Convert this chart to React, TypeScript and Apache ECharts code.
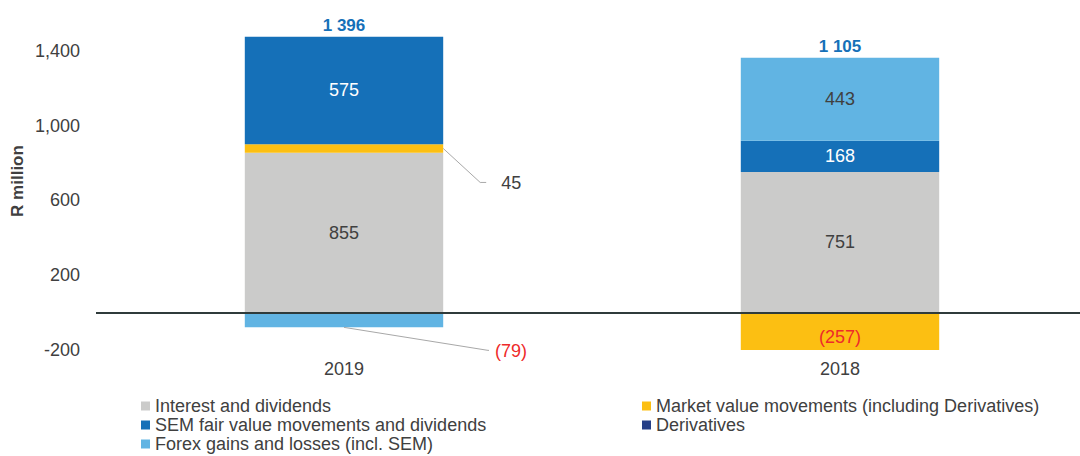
import React, { useEffect, useRef } from "react";
import * as echarts from "echarts";

const categories = ["2019", "2018"];
const interestAndDividends = [855, 751];
const marketValueMovements = [45, -257];
const semFairValue = [575, 168];
const forexGains = [-79, 443];
const derivatives: (number | null)[] = [null, null];
const totals = [1396, 1105];

const yMin = -200;
const yMax = 1500;
const yInterval = 400;

const FONT = "'Liberation Sans', Arial, sans-serif";
const TEXT = "#404040";
const RED = "#ee2a2a";

const NAMES = {
  interest: "Interest and dividends",
  market: "Market value movements (including Derivatives)",
  sem: "SEM fair value movements and dividends",
  forex: "Forex gains and losses (incl. SEM)",
  deriv: "Derivatives",
};

const fmt = (v: number) => (v < 0 ? `(${Math.abs(v)})` : `${v}`);
const fmtTotal = (v: number) => String(v).replace(/\B(?=(\d{3})+(?!\d))/g, " ");

// series drawn in stack order
const stackSeries = [
  { key: "interest", name: NAMES.interest, data: interestAndDividends, color: "#cbcbca", label: TEXT },
  { key: "market", name: NAMES.market, data: marketValueMovements, color: "#fcbf12", label: TEXT },
  { key: "sem", name: NAMES.sem, data: semFairValue, color: "#1570b8", label: "#ffffff" },
  { key: "forex", name: NAMES.forex, data: forexGains, color: "#61b4e3", label: TEXT },
  { key: "deriv", name: NAMES.deriv, data: derivatives, color: "#253f87", label: "#ffffff" },
];

// callouts: labels drawn outside with a leader line (kind 0 = right edge mid, 1 = bottom centre)
const callouts = [
  { key: "market", cat: 0, kind: 0 },
  { key: "forex", cat: 0, kind: 1 },
];

export default function App() {
  const ref = useRef<HTMLDivElement>(null);

  useEffect(() => {
    if (!ref.current) return;
    const chart = echarts.init(ref.current, undefined, { renderer: "svg" });

    const posBase = categories.map(() => 0);
    const negBase = categories.map(() => 0);
    const anchors: Record<string, number[]> = {};
    stackSeries.forEach((s) => {
      anchors[s.key] = categories.map((_, i) => {
        const v = s.data[i];
        if (v == null) return 0;
        if (v >= 0) {
          const mid = posBase[i] + v / 2;
          posBase[i] += v;
          return mid;
        } else {
          const end = negBase[i] + v;
          negBase[i] += v;
          return end;
        }
      });
    });
    const positiveTops = posBase.slice();

    const calloutData = callouts.map((c) => {
      const s = stackSeries.find((x) => x.key === c.key)!;
      return [c.cat, anchors[c.key][c.cat], s.data[c.cat] as number, c.kind];
    });

    const barSeries: any[] = stackSeries.map((s, si) => ({
      name: s.name,
      type: "bar",
      stack: "total",
      barWidth: "40%",
      itemStyle: { color: s.color },
      label: {
        show: true,
        position: "inside",
        fontFamily: FONT,
        fontSize: 18,
        color: s.label,
        formatter: (p: any) => fmt(p.value),
      },
      markLine:
        si === 0
          ? {
              silent: true,
              symbol: ["none", "none"],
              label: { show: false },
              lineStyle: { color: "#2f3b3b", width: 2, type: "solid" },
              data: [{ yAxis: 0 }],
            }
          : undefined,
      data: s.data.map((v, i) => {
        const isCallout = callouts.some((c) => c.key === s.key && c.cat === i);
        return {
          value: v,
          label: {
            show: v != null && !isCallout,
            color: v != null && v < 0 ? RED : s.label,
            offset: v != null && v < yMin ? [0, 6] : [0, 0],
          },
        };
      }),
    }));

    const legendBase = {
      orient: "vertical",
      top: 397,
      height: 80,
      padding: 0,
      itemWidth: 9,
      itemHeight: 9,
      itemGap: 1,
      icon: "rect",
      selectedMode: false,
      textStyle: { color: TEXT, fontSize: 18, fontFamily: FONT, lineHeight: 18 },
    };

    const option: any = {
      animation: false,
      grid: {
        left: 96,
        width: 992,
        top: 32,
        bottom: 106,
        containLabel: false,
        outerBoundsMode: "none",
      },
      xAxis: {
        type: "category",
        data: categories,
        axisLine: { show: false, onZero: false },
        axisTick: { show: false },
        axisLabel: { color: TEXT, fontSize: 18, fontFamily: FONT, margin: 10 },
      },
      yAxis: {
        type: "value",
        min: yMin,
        max: yMax,
        interval: yInterval,
        axisLine: { show: false },
        axisTick: { show: false },
        splitLine: { show: false },
        axisLabel: {
          color: TEXT,
          fontSize: 18,
          fontFamily: FONT,
          margin: 16,
          showMaxLabel: false,
          formatter: (v: number) => (v === yMax ? "" : v.toLocaleString("en-US")),
        },
      },
      legend: [
        { ...legendBase, data: [NAMES.interest, NAMES.sem, NAMES.forex], left: 141 },
        { ...legendBase, data: [NAMES.market, NAMES.deriv], left: 642 },
      ],
      graphic: [
        {
          type: "text",
          x: 17,
          y: 181,
          rotation: Math.PI / 2,
          style: {
            text: "R million",
            font: `bold 17px ${FONT}`,
            fill: TEXT,
            align: "center",
            verticalAlign: "middle",
          },
        },
      ],
      series: [
        ...barSeries,
        {
          name: "totals",
          type: "scatter",
          symbolSize: 1,
          itemStyle: { color: "rgba(0,0,0,0)", opacity: 1 },
          silent: true,
          label: {
            show: true,
            position: "top",
            distance: 2,
            fontFamily: FONT,
            fontSize: 17,
            fontWeight: "bold",
            color: "#1570b8",
            opacity: 1,
            formatter: (p: any) => fmtTotal(totals[p.dataIndex]),
          },
          data: positiveTops.map((v, i) => [categories[i], v]),
          z: 5,
        },
        {
          name: "callouts",
          type: "custom",
          silent: true,
          z: 6,
          encode: { x: 0, y: 1 },
          renderItem: (params: any, api: any) => {
            const cat = api.value(0);
            const yv = api.value(1);
            const val = api.value(2);
            const kind = api.value(3);
            const pt = api.coord([cat, yv]);
            const half = api.size([1, 0])[0] * 0.2;
            let p0: number[], p1: number[], p2: number[], tx: number;
            if (kind === 0) {
              p0 = [pt[0] + half, pt[1]];
              p1 = [p0[0] + 37, p0[1] + 34];
              p2 = [p1[0] + 6, p1[1]];
              tx = p2[0] + 15;
            } else {
              p0 = [pt[0], pt[1]];
              p1 = [p0[0] + 144, p0[1] + 23];
              p2 = [p1[0] + 1, p1[1]];
              tx = p2[0] + 6;
            }
            return {
              type: "group",
              children: [
                {
                  type: "polyline",
                  shape: { points: [p0, p1, p2] },
                  style: { stroke: "#a8a8a8", lineWidth: 1, fill: "none" },
                },
                {
                  type: "text",
                  x: tx,
                  y: p1[1] + 1,
                  style: {
                    text: fmt(val),
                    font: `18px ${FONT}`,
                    fill: val < 0 ? RED : TEXT,
                    align: "left",
                    verticalAlign: "middle",
                  },
                },
              ],
            };
          },
          data: calloutData,
        },
      ],
    };

    chart.setOption(option);
    return () => chart.dispose();
  }, []);

  return (
    <div
      ref={ref}
      style={{ position: "fixed", left: 0, top: 0, width: 1080, height: 456, background: "#fff" }}
    />
  );
}
